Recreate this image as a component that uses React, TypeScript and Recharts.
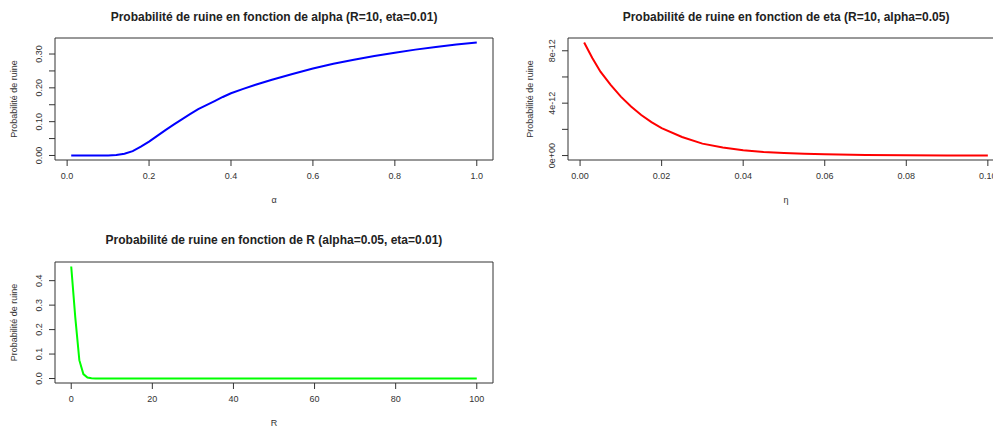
import React from 'react';
import { LineChart, Line, XAxis, YAxis, ReferenceArea, Label } from 'recharts';

// ruin probability vs alpha (R=10, eta=0.01)
const alphaValues = [0.01, 0.05, 0.1, 0.12, 0.14, 0.16, 0.18, 0.2, 0.22, 0.24, 0.26, 0.28, 0.3, 0.32, 0.34, 0.36, 0.38, 0.4, 0.43, 0.46, 0.5, 0.55, 0.6, 0.65, 0.7, 0.75, 0.8, 0.85, 0.9, 0.95, 1.0];
const psiAlpha = [0, 0, 0.0003, 0.0015, 0.005, 0.013, 0.026, 0.041, 0.058, 0.075, 0.091, 0.107, 0.122, 0.137, 0.149, 0.161, 0.173, 0.184, 0.197, 0.209, 0.224, 0.241, 0.257, 0.271, 0.283, 0.294, 0.304, 0.313, 0.321, 0.328, 0.334];

// ruin probability vs eta (R=10, alpha=0.05)
const etaValues = [0.001, 0.003, 0.005, 0.0075, 0.01, 0.0125, 0.015, 0.0175, 0.02, 0.025, 0.03, 0.035, 0.04, 0.045, 0.05, 0.055, 0.06, 0.07, 0.08, 0.09, 0.1];
const psiEta = [8.63e-12, 7.45e-12, 6.4e-12, 5.4e-12, 4.5e-12, 3.75e-12, 3.1e-12, 2.55e-12, 2.1e-12, 1.42e-12, 0.91e-12, 0.61e-12, 0.4e-12, 0.28e-12, 0.2e-12, 0.14e-12, 0.095e-12, 0.045e-12, 0.02e-12, 0.01e-12, 0.005e-12];

// ruin probability vs R (alpha=0.05, eta=0.01)
const rValues = [0, 1, 2, 3, 4, 5, 6, 8, 10, 20, 30, 40, 50, 60, 70, 80, 90, 100];
const psiR = [0.458, 0.25, 0.075, 0.018, 0.004, 0.001, 0.0002, 0, 0, 0, 0, 0, 0, 0, 0, 0, 0, 0];

const alphaTicksX = [0, 0.2, 0.4, 0.6, 0.8, 1.0];
const alphaTicksY = [0, 0.05, 0.1, 0.15, 0.2, 0.25, 0.3];
const etaTicksX = [0, 0.02, 0.04, 0.06, 0.08, 0.1];
const etaTicksY = [0, 2e-12, 4e-12, 6e-12, 8e-12];
const rTicksX = [0, 20, 40, 60, 80, 100];
const rTicksY = [0, 0.1, 0.2, 0.3, 0.4];

const FONT = '"Liberation Sans", Arial, sans-serif';
const INK = '#333333';

const toRows = (xs: number[], ys: number[]) => xs.map((x, i) => ({ x, y: ys[i] }));

// R's default xaxs="r": extend the data range by 4% on each side
const pad = (vals: number[]): [number, number] => {
  const lo = Math.min(...vals);
  const hi = Math.max(...vals);
  const d = (hi - lo) * 0.04;
  return [lo - d, hi + d];
};

const RotatedTick = (props: any) => {
  const { x, y, payload, index, fmt } = props;
  const text = fmt(payload.value, index);
  if (!text) return null;
  return (
    <text
      transform={`translate(${x - 5},${y}) rotate(-90)`}
      textAnchor="middle"
      fontSize={9}
      fontFamily={FONT}
      fill={INK}
    >
      {text}
    </text>
  );
};

interface PanelProps {
  left: number;
  top: number;
  width: number;
  height: number;
  marginTop: number;
  marginRight: number;
  yAxisWidth: number;
  xAxisHeight: number;
  title: string;
  titleY: number;
  xs: number[];
  ys: number[];
  color: string;
  xTicks: number[];
  yTicks: number[];
  xFmt: (v: number) => string;
  yFmt: (v: number, i: number) => string;
  xLabel: string;
}

function Panel(p: PanelProps) {
  const data = toRows(p.xs, p.ys);
  const xDomain = pad(p.xs);
  const yDomain = pad(p.ys);
  const plotW = p.width - p.yAxisWidth - p.marginRight;
  return (
    <div style={{ position: 'absolute', left: p.left, top: p.top, width: p.width, height: p.height }}>
      <div
        style={{
          position: 'absolute',
          left: p.yAxisWidth,
          width: plotW,
          top: p.titleY - 8,
          textAlign: 'center',
          fontFamily: FONT,
          fontWeight: 'bold',
          fontSize: 12,
          lineHeight: '16px',
          color: '#222',
          whiteSpace: 'nowrap',
        }}
      >
        {p.title}
      </div>
      <LineChart
        width={p.width}
        height={p.height}
        data={data}
        margin={{ top: p.marginTop, right: p.marginRight, bottom: 0, left: 0 }}
      >
        <XAxis
          type="number"
          dataKey="x"
          domain={xDomain}
          ticks={p.xTicks}
          interval={0}
          allowDataOverflow
          axisLine={false}
          tickSize={6}
          tickMargin={7}
          stroke={INK}
          height={p.xAxisHeight}
          tick={{ fontSize: 9, fill: INK, fontFamily: FONT }}
          tickFormatter={p.xFmt}
        >
          <Label
            content={(lp: any) => {
              const vb = lp.viewBox;
              return (
                <text x={vb.x + vb.width / 2} y={vb.y + 43} textAnchor="middle" fontSize={9} fontFamily={FONT} fill={INK}>
                  {p.xLabel}
                </text>
              );
            }}
          />
        </XAxis>
        <YAxis
          type="number"
          dataKey="y"
          domain={yDomain}
          ticks={p.yTicks}
          interval={0}
          allowDataOverflow
          axisLine={false}
          tickSize={6}
          tickMargin={2}
          stroke={INK}
          width={p.yAxisWidth}
          tick={<RotatedTick fmt={p.yFmt} />}
        >
          <Label
            content={(lp: any) => {
              const vb = lp.viewBox;
              const cx = vb.x + (p.yAxisWidth > 60 ? 37 : 16.5);
              const cy = vb.y + vb.height / 2;
              return (
                <text
                  transform={`translate(${cx},${cy}) rotate(-90)`}
                  textAnchor="middle"
                  fontSize={9}
                  fontFamily={FONT}
                  fill={INK}
                >
                  Probabilité de ruine
                </text>
              );
            }}
          />
        </YAxis>
        <ReferenceArea
          x1={xDomain[0]}
          x2={xDomain[1]}
          y1={yDomain[0]}
          y2={yDomain[1]}
          fill="none"
          fillOpacity={0}
          stroke={INK}
          strokeWidth={1}
          ifOverflow="visible"
        />
        <Line
          type="linear"
          dataKey="y"
          stroke={p.color}
          strokeWidth={2}
          dot={false}
          isAnimationActive={false}
        />
      </LineChart>
    </div>
  );
}

export default function App() {
  return (
    <div
      style={{
        position: 'absolute',
        left: 0,
        top: 0,
        width: 993,
        height: 428,
        overflow: 'hidden',
        background: '#ffffff',
      }}
    >
      <Panel
        left={0}
        top={0}
        width={496}
        height={214}
        marginTop={38}
        marginRight={3}
        yAxisWidth={55}
        xAxisHeight={54}
        title="Probabilité de ruine en fonction de alpha (R=10, eta=0.01)"
        titleY={17}
        xs={alphaValues}
        ys={psiAlpha}
        color="#0000ff"
        xTicks={alphaTicksX}
        yTicks={alphaTicksY}
        xFmt={(v) => v.toFixed(1)}
        yFmt={(v, i) => (i % 2 === 0 ? v.toFixed(2) : '')}
        xLabel="α"
      />
      <Panel
        left={496}
        top={0}
        width={512}
        height={214}
        marginTop={38}
        marginRight={4}
        yAxisWidth={72}
        xAxisHeight={54}
        title="Probabilité de ruine en fonction de eta (R=10, alpha=0.05)"
        titleY={17}
        xs={etaValues}
        ys={psiEta}
        color="#ff0000"
        xTicks={etaTicksX}
        yTicks={etaTicksY}
        xFmt={(v) => v.toFixed(2)}
        yFmt={(v, i) => (i % 2 === 0 ? (v === 0 ? '0e+00' : `${Math.round(v * 1e12)}e-12`) : '')}
        xLabel="η"
      />
      <Panel
        left={0}
        top={214}
        width={496}
        height={214}
        marginTop={48}
        marginRight={3}
        yAxisWidth={55}
        xAxisHeight={45}
        title="Probabilité de ruine en fonction de R (alpha=0.05, eta=0.01)"
        titleY={26}
        xs={rValues}
        ys={psiR}
        color="#00ff00"
        xTicks={rTicksX}
        yTicks={rTicksY}
        xFmt={(v) => String(v)}
        yFmt={(v) => v.toFixed(1)}
        xLabel="R"
      />
    </div>
  );
}
